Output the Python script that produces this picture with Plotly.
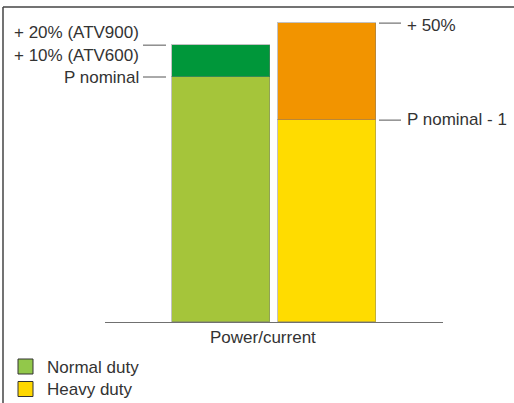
import plotly.graph_objects as go

# Data (arbitrary units, P nominal normal duty = 100)
categories = [0, 1]                      # Normal duty, Heavy duty positions
nominal_values = [100, 82.4]             # P nominal / P nominal - 1
overload_values = [13, 39.6]             # +10/20% , +50%
nominal_colors = ["#a5c53a", "#ffdc00"]
overload_colors = ["#00973a", "#f29400"]
legend_labels = ["Normal duty", "Heavy duty"]
legend_colors = ["#92c84a", "#ffd800"]

W, H = 514, 403
ML, MR, MT, MB = 105, 71, 10, 81
PW, PH = W - ML - MR, H - MT - MB
YMAX = PH / 2.45

def xp(px):
    return (px - ML) / PW

def yp(py):
    return (H - MB - py) / PH

font = dict(family="Liberation Sans, Arial, sans-serif", size=17, color="#333333")

fig = go.Figure()
fig.add_trace(go.Bar(x=categories, y=nominal_values, width=0.925,
                     marker=dict(color=nominal_colors,
                                 line=dict(color="rgba(120,120,120,0.45)", width=1)),
                     showlegend=False, hoverinfo="skip"))
fig.add_trace(go.Bar(x=categories, y=overload_values, width=0.925,
                     marker=dict(color=overload_colors,
                                 line=dict(color="rgba(120,120,120,0.45)", width=1)),
                     showlegend=False, hoverinfo="skip"))

shapes = []
# frame (top and left)
shapes.append(dict(type="line", xref="paper", yref="paper", x0=xp(3), x1=xp(W + 5),
                   y0=yp(7), y1=yp(7), line=dict(color="#444444", width=1.5)))
shapes.append(dict(type="line", xref="paper", yref="paper", x0=xp(3), x1=xp(3),
                   y0=yp(7), y1=yp(H + 5), line=dict(color="#444444", width=1.5)))

lead = dict(color="#555555", width=1)
n_top = nominal_values[0] + overload_values[0]
h_top = nominal_values[1] + overload_values[1]
# left leader lines
shapes.append(dict(type="line", xref="paper", yref="y", x0=xp(143), x1=xp(166),
                   y0=n_top, y1=n_top, line=lead))
shapes.append(dict(type="line", xref="paper", yref="y", x0=xp(143), x1=xp(166),
                   y0=nominal_values[0], y1=nominal_values[0], line=lead))
# right leader lines
shapes.append(dict(type="line", xref="paper", yref="y", x0=xp(379), x1=xp(401),
                   y0=h_top, y1=h_top, line=lead))
shapes.append(dict(type="line", xref="paper", yref="y", x0=xp(379), x1=xp(401),
                   y0=nominal_values[1], y1=nominal_values[1], line=lead))

annotations = []
def ann(text, x, y, xanchor):
    annotations.append(dict(text=text, xref="paper", yref="paper", x=xp(x), y=yp(y),
                            xanchor=xanchor, yanchor="middle", showarrow=False, font=font))

ann("+ 20% (ATV900)", 141, 33, "right")
ann("+ 10% (ATV600)", 141, 55, "right")
ann("P nominal", 141, 77, "right")
ann("+ 50%", 405, 25, "left")
ann("P nominal - 1", 405, 120, "left")
ann("Power/current", 263, 337, "center")

# legend
for i, (lab, col) in enumerate(zip(legend_labels, legend_colors)):
    top = 359 + i * 22.5
    shapes.append(dict(type="rect", xref="paper", yref="paper", x0=xp(18), x1=xp(33),
                       y0=yp(top), y1=yp(top + 15), fillcolor=col,
                       line=dict(color="#333333", width=1)))
    ann(lab, 45, top + 8, "left")

fig.update_layout(
    width=W, height=H, margin=dict(l=ML, r=MR, t=MT, b=MB),
    paper_bgcolor="white", plot_bgcolor="white",
    barmode="stack", bargap=0,
    xaxis=dict(range=[-116 / 106, (PW - 116) / 106], showgrid=False, zeroline=False,
               showticklabels=False, ticks="", showline=True, linecolor="#707070",
               linewidth=1, fixedrange=True),
    yaxis=dict(range=[0, YMAX], showgrid=False, zeroline=False, showticklabels=False,
               ticks="", showline=False, fixedrange=True),
    shapes=shapes, annotations=annotations, showlegend=False,
)

fig.write_html("out.html", config={"displayModeBar": False},
               post_script="document.body.style.margin='0px';document.body.style.overflow='hidden';")
